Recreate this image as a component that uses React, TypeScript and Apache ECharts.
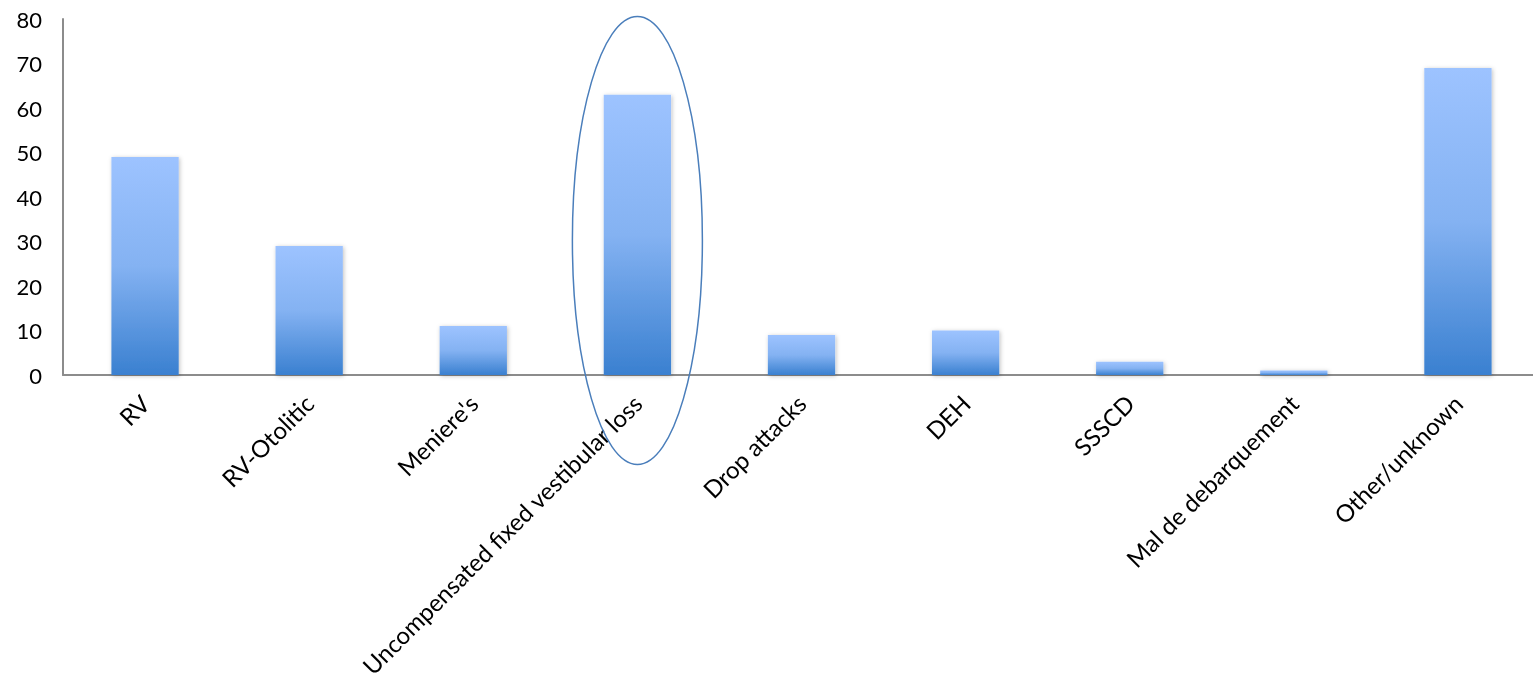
import React, { useEffect, useRef } from "react";
import * as echarts from "echarts";

const categories = [
  "RV",
  "RV-Otolitic",
  "Meniere's",
  "Uncompensated fixed vestibular loss",
  "Drop attacks",
  "DEH",
  "SSSCD",
  "Mal de debarquement",
  "Other/unknown",
];
const values = [49, 29, 11, 63, 9, 10, 3, 1, 69];
const highlightedCategory = "Uncompensated fixed vestibular loss";

export default function App() {
  const ref = useRef<HTMLDivElement>(null);
  useEffect(() => {
    const chart = echarts.init(ref.current!, null, { renderer: "svg" });
    const font = "Lato, 'Open Sans', sans-serif";
    chart.setOption({
      animation: false,
      grid: {
        left: 63,
        right: -7,
        top: 19,
        bottom: 315,
        containLabel: false,
        outerBoundsMode: "none",
      },
      xAxis: {
        type: "category",
        data: categories,
        axisLine: { lineStyle: { color: "#8c8c8c", width: 2 } },
        axisTick: { show: false },
        axisLabel: {
          rotate: 45,
          interval: 0,
          margin: 24,
          fontSize: 24,
          color: "#000",
          fontFamily: font,
        },
      },
      yAxis: {
        type: "value",
        min: 0,
        max: 80,
        interval: 10,
        splitLine: { show: false },
        axisLine: { show: true, lineStyle: { color: "#8c8c8c", width: 2 } },
        axisTick: { show: false },
        axisLabel: { fontSize: 22, color: "#000", margin: 21, fontFamily: font },
      },
      series: [
        {
          type: "bar",
          data: values,
          barWidth: "41%",
          itemStyle: {
            color: new echarts.graphic.LinearGradient(0, 0, 0, 1, [
              { offset: 0, color: "#9dc3ff" },
              { offset: 0.5, color: "#84b2f2" },
              { offset: 1, color: "#3a80d0" },
            ]),
            shadowColor: "rgba(0,0,0,0.25)",
            shadowBlur: 4,
            shadowOffsetX: 1,
            shadowOffsetY: 1,
          },
        },
      ],
    });
    const px = chart.convertToPixel({ xAxisIndex: 0 }, highlightedCategory) as any;
    const cx = Array.isArray(px) ? px[0] : px;
    const py = chart.convertToPixel({ yAxisIndex: 0 }, 30) as any;
    const cy = Array.isArray(py) ? py[1] : py;
    chart.setOption({
      graphic: [
        {
          type: "ellipse",
          shape: { cx: cx, cy: cy - 1, rx: 65, ry: 224 },
          style: { fill: "none", stroke: "#4a7ebb", lineWidth: 1.5 },
          z: 100,
        },
      ],
    });
    return () => chart.dispose();
  }, []);
  return (
    <div
      ref={ref}
      style={{ position: "fixed", left: 0, top: 0, width: 1533, height: 690 }}
    />
  );
}
